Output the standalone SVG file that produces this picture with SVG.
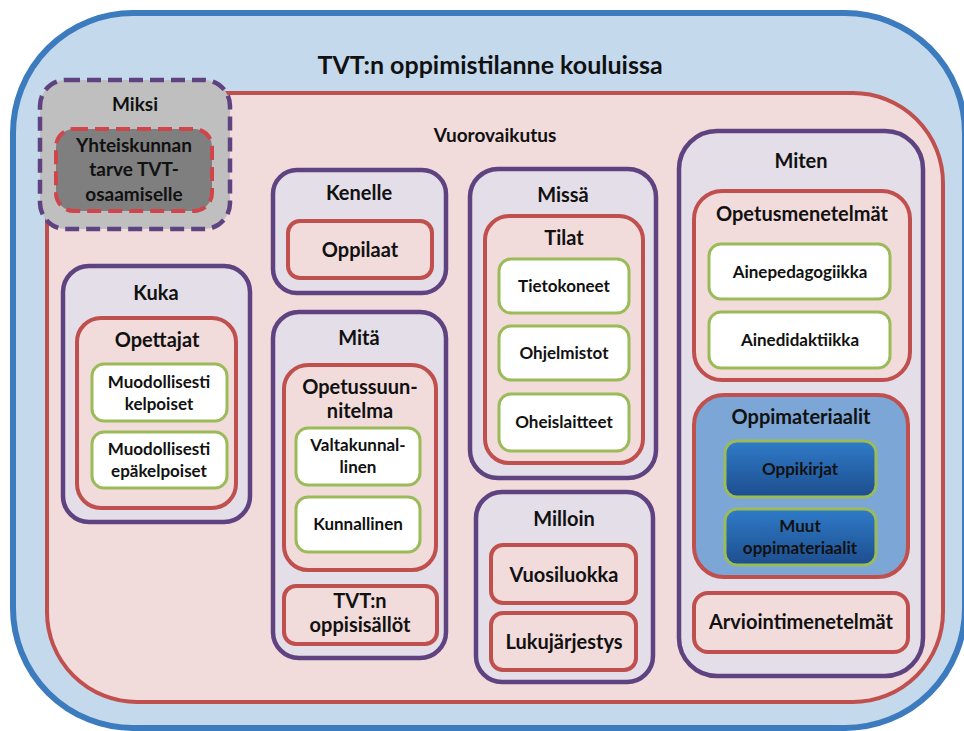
<svg xmlns="http://www.w3.org/2000/svg" width="964" height="731" viewBox="0 0 964 731">
  <defs>
    <linearGradient id="darkBlue" x1="0" y1="0" x2="0" y2="1">
      <stop offset="0" stop-color="#2f7bc8"/>
      <stop offset="1" stop-color="#1d4e8e"/>
    </linearGradient>
    <style>
      text { font-family: "Lato", "Liberation Sans", sans-serif; font-weight: bold; fill: #111; text-anchor: middle; }
      .outer { fill: #c5d9ec; stroke: #3d7bbf; stroke-width: 6; }
      .zone { fill: #f2dbdb; stroke: #c0504d; stroke-width: 4; }
      .group { fill: #e4dee8; stroke: #5e4380; stroke-width: 4.5; }
      .cat { fill: #f2dbdb; stroke: #c0504d; stroke-width: 4; }
      .item { fill: #ffffff; stroke: #9bbb59; stroke-width: 3; }
      .why { fill: #bfbfbf; stroke: #5e4380; stroke-width: 4.5; stroke-dasharray: 14 7; }
      .whyInner { fill: #7f7f7f; stroke: #d0454a; stroke-width: 4; stroke-dasharray: 14 7; }
      .mat { fill: #7ba6d6; stroke: #c0504d; stroke-width: 4; }
      .matItem { fill: url(#darkBlue); stroke: #9bbb59; stroke-width: 3; }
      .t1 { font-size: 25px; }
      .t2 { font-size: 20px; }
      .t3 { font-size: 19px; }
      .t4 { font-size: 17px; }
    </style>
  </defs>

  <!-- outer frame -->
  <g id="oppimistilanne">
    <rect class="outer" x="13" y="13" width="952" height="715" rx="120"/>
    <text class="t1" x="490" y="74">TVT:n oppimistilanne kouluissa</text>
  </g>

  <!-- interaction zone -->
  <g id="vuorovaikutus">
    <rect class="zone" x="47" y="93" width="896" height="609" rx="90"/>
    <text class="t3" x="495" y="142">Vuorovaikutus</text>
  </g>

  <!-- why -->
  <g id="miksi">
    <rect class="why" x="40" y="80" width="190" height="149" rx="26"/>
    <text class="t3" x="135" y="111">Miksi</text>
    <rect class="whyInner" x="56" y="129" width="156" height="82" rx="18"/>
    <text class="t3" x="134" y="152">Yhteiskunnan</text>
    <text class="t3" x="134" y="176">tarve TVT-</text>
    <text class="t3" x="134" y="201">osaamiselle</text>
  </g>

  <!-- who -->
  <g id="kuka">
    <rect class="group" x="63" y="266" width="187" height="256" rx="26"/>
    <text class="t2" x="156" y="300">Kuka</text>
    <rect class="cat" x="77" y="318" width="159" height="190" rx="24"/>
    <text class="t2" x="157" y="347">Opettajat</text>
    <rect class="item" x="92" y="364" width="135" height="57" rx="12"/>
    <text class="t4" x="159" y="388">Muodollisesti</text>
    <text class="t4" x="159" y="410">kelpoiset</text>
    <rect class="item" x="92" y="432" width="135" height="56" rx="12"/>
    <text class="t4" x="159" y="455">Muodollisesti</text>
    <text class="t4" x="159" y="477">epäkelpoiset</text>
  </g>

  <!-- to whom -->
  <g id="kenelle">
    <rect class="group" x="273" y="170" width="173" height="123" rx="24"/>
    <text class="t2" x="359" y="200">Kenelle</text>
    <rect class="cat" x="288" y="221" width="144" height="57" rx="12"/>
    <text class="t2" x="360" y="257">Oppilaat</text>
  </g>

  <!-- what -->
  <g id="mita">
    <rect class="group" x="273" y="312" width="173" height="346" rx="26"/>
    <text class="t2" x="359" y="345">Mitä</text>
    <rect class="cat" x="284" y="365" width="152" height="205" rx="24"/>
    <text class="t2" x="360" y="394">Opetussuun-</text>
    <text class="t2" x="360" y="418">nitelma</text>
    <rect class="item" x="296" y="428" width="124" height="57" rx="12"/>
    <text class="t4" x="358" y="451">Valtakunnal-</text>
    <text class="t4" x="358" y="473">linen</text>
    <rect class="item" x="296" y="497" width="124" height="55" rx="12"/>
    <text class="t4" x="358" y="530">Kunnallinen</text>
    <rect class="cat" x="284" y="586" width="153" height="58" rx="12"/>
    <text class="t2" x="360" y="608">TVT:n</text>
    <text class="t2" x="360" y="632">oppisisällöt</text>
  </g>

  <!-- where -->
  <g id="missa">
    <rect class="group" x="470" y="169" width="186" height="309" rx="28"/>
    <text class="t2" x="563" y="202">Missä</text>
    <rect class="cat" x="485" y="216" width="158" height="247" rx="24"/>
    <text class="t2" x="564" y="245">Tilat</text>
    <rect class="item" x="499" y="259" width="130" height="54" rx="12"/>
    <text class="t4" x="564" y="292">Tietokoneet</text>
    <rect class="item" x="499" y="326" width="130" height="54" rx="12"/>
    <text class="t4" x="564" y="359">Ohjelmistot</text>
    <rect class="item" x="499" y="394" width="130" height="57" rx="12"/>
    <text class="t4" x="564" y="428">Oheislaitteet</text>
  </g>

  <!-- when -->
  <g id="milloin">
    <rect class="group" x="476" y="492" width="177" height="190" rx="26"/>
    <text class="t2" x="564" y="526">Milloin</text>
    <rect class="cat" x="491" y="545" width="145" height="58" rx="12"/>
    <text class="t2" x="564" y="582">Vuosiluokka</text>
    <rect class="cat" x="491" y="613" width="145" height="57" rx="12"/>
    <text class="t2" x="564" y="649">Lukujärjestys</text>
  </g>

  <!-- how -->
  <g id="miten">
    <rect class="group" x="679" y="131" width="244" height="545" rx="38"/>
    <text class="t2" x="801" y="168">Miten</text>
    <rect class="cat" x="694" y="191" width="216" height="189" rx="28"/>
    <text class="t2" x="802" y="221">Opetusmenetelmät</text>
    <rect class="item" x="709" y="244" width="181" height="55" rx="12"/>
    <text class="t4" x="800" y="278">Ainepedagogiikka</text>
    <rect class="item" x="709" y="312" width="181" height="56" rx="12"/>
    <text class="t4" x="800" y="346">Ainedidaktiikka</text>
    <rect class="mat" x="694" y="395" width="214" height="182" rx="30"/>
    <text class="t2" x="801" y="424">Oppimateriaalit</text>
    <rect class="matItem" x="725" y="441" width="151" height="56" rx="12"/>
    <text class="t4" x="800" y="475">Oppikirjat</text>
    <rect class="matItem" x="725" y="509" width="151" height="56" rx="12"/>
    <text class="t4" x="800" y="532">Muut</text>
    <text class="t4" x="800" y="554">oppimateriaalit</text>
    <rect class="cat" x="694" y="593" width="214" height="59" rx="14"/>
    <text class="t2" x="801" y="629">Arviointimenetelmät</text>
  </g>
</svg>
